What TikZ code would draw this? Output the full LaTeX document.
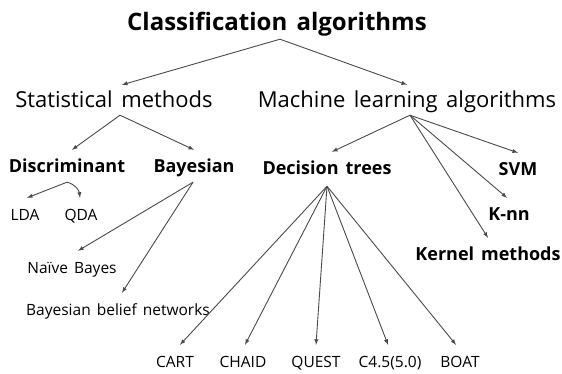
\documentclass[tikz,border=0pt]{standalone}
\usepackage{fontspec}
\setmainfont{Open Sans}[WordSpace=1.5]
\usepackage{tikz}
\usetikzlibrary{arrows}
\usetikzlibrary{calc}
\definecolor{linecolor}{HTML}{4A4A4A}

\tikzset{
  lbl/.style={inner sep=0pt, anchor=base, text height=22pt, text depth=10pt},
  headlbl/.style={lbl, text depth=9pt, font=\bfseries\fontsize{24}{28}\selectfont},
  grouplbl/.style={lbl, text depth=8pt, font=\fontsize{22}{26}\selectfont},
  methodlbl/.style={lbl, font=\bfseries\fontsize{18}{22}\selectfont},
  leaflbl/.style={lbl, font=\fontsize{15.5}{18}\selectfont},
  arr/.style={color=linecolor, line width=0.9pt, -latex},
}

\begin{document}
\begin{tikzpicture}[x=1pt,y=-1pt]
\useasboundingbox (0,0) rectangle (562,373);
%% top levels
\node[headlbl] (cls) at (277,30) {Classification algorithms};
\node[grouplbl] (stat) at (114,107) {Statistical methods};
\node[grouplbl] (ml) at (407,107) {Machine learning algorithms};
\draw[arr] ([xshift=3pt]cls.south) -- ([xshift=8pt]stat.north);
\draw[arr] ([xshift=3pt]cls.south) -- (ml.north);

%% statistical side
\node[methodlbl] (disc) at (67,172) {Discriminant};
\node[methodlbl] (bayes) at (194,172) {Bayesian};
\draw[arr] ([xshift=6pt]stat.south) -- ([xshift=5pt]disc.north);
\draw[arr] ([xshift=6pt]stat.south) -- (bayes.north);

\node[leaflbl] (lda) at (25,220) {LDA};
\node[leaflbl] (qda) at (81,220) {QDA};
\node[leaflbl] (naive) at (72,273) {Naïve Bayes};
\node[leaflbl] (bbn) at (118,315) {Bayesian belief networks};
\draw[arr] (disc.south) -- ([xshift=2pt]lda.north);
% y runs downwards: +(8,2) is right and a bit lower
\draw[arr] (disc.south) .. controls +(8,2) and +(-1,-8) .. ([xshift=-1pt]qda.north);
\draw[arr] ([xshift=-1pt]bayes.south) -- ([xshift=6pt]naive.north);
\draw[arr] ([xshift=-1pt]bayes.south) -- ([xshift=4pt]bbn.north);

%% machine learning side
\node[methodlbl] (dtree) at (327,174) {Decision trees};
\node[methodlbl] (svm) at (518,175) {SVM};
\node[methodlbl] (knn) at (509,220) {K-nn};
\node[methodlbl] (kernel) at (488,260) {Kernel methods};
\foreach \m/\dx in {dtree/5, svm/0, knn/-2, kernel/0}
    \draw[arr] ([xshift=3pt]ml.south) -- ([xshift=\dx pt]\m.north);

%% tree algorithms
\foreach \name/\x/\txt in {cart/175/CART, chaid/243/CHAID, quest/316/QUEST, c45/390/C4.5(5.0), boat/460/BOAT}
    \node[leaflbl] (\name) at (\x,367) {\txt};
\foreach \name/\dx in {cart/5, chaid/2, quest/0, c45/-2, boat/-4}
    \draw[arr] ([yshift=-2pt]dtree.south) -- ([xshift=\dx pt]\name.north);
\end{tikzpicture}
\end{document}
